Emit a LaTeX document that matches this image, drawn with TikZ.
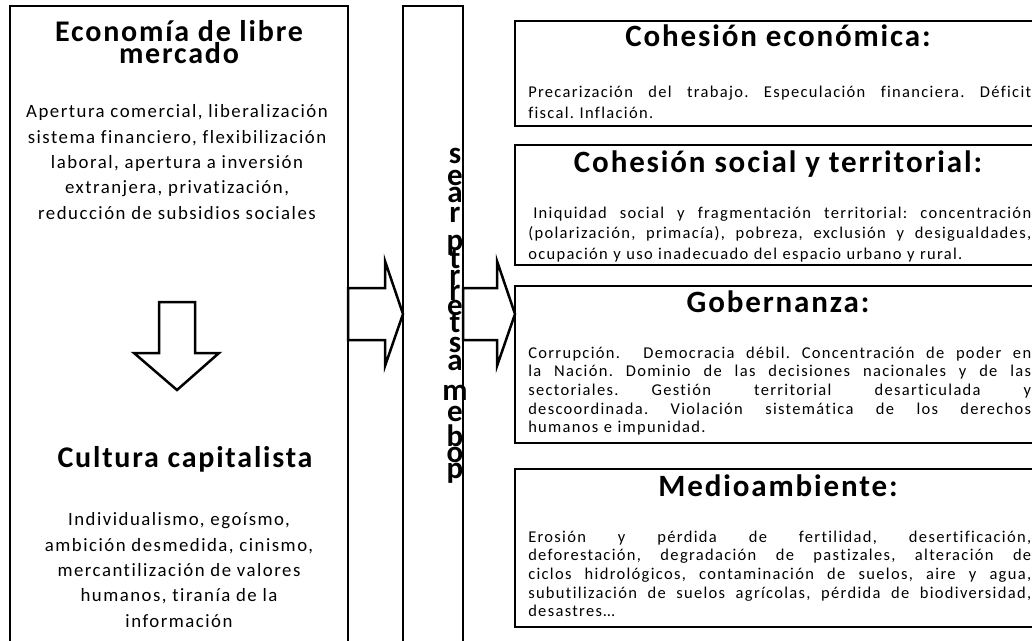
\documentclass[tikz,border=0pt]{standalone}
\usepackage{fontspec}
\setmainfont{Carlito}
\newfontfamily\headfont{Carlito}[LetterSpace=6]
\newfontfamily\bodyfont{Carlito}[LetterSpace=8, Ligatures=CommonOff]
\usetikzlibrary{positioning}

% one justified line of a body text
\newcommand{\jline}[1]{\makebox[\hsize][s]{\spaceskip=0pt\xspaceskip=0pt #1}}

\begin{document}
\frenchspacing
\begin{tikzpicture}[x=1pt, y=-1pt, line width=2.5pt,
  panel/.style={draw, rectangle, inner sep=0pt, outer sep=0pt},
  headtxt/.style={font=\headfont\bfseries\fontsize{31}{22}\selectfont, inner sep=0pt, anchor=base, align=center},
  bodytxt/.style={font=\bodyfont\fontsize{16.5}{#1}\selectfont, inner sep=0pt, anchor=base west, text width=503pt, align=left},
  bodytxt/.default=18.7,
  sidetxt/.style={font=\bodyfont\fontsize{18.8}{25.3}\selectfont, inner sep=0pt, anchor=base, align=center},
  stackch/.style={font=\headfont\bfseries\fontsize{31}{31}\selectfont, inner sep=0pt, anchor=base},
  blockarrow/.style={draw, fill=white, line join=miter}
]
\useasboundingbox (0,0) rectangle (1032,640);

% Left and middle columns
\node[panel, minimum width=338pt, minimum height=645pt, anchor=north west] (econbox) at (10,6) {};
\node[panel, minimum width=60pt, minimum height=645pt, right=55pt of econbox] (probbox) {};

% Right boxes
\node[panel, minimum width=526pt, minimum height=105pt, anchor=north west] (cohEco) at (515,21) {};
\node[panel, minimum width=526pt, minimum height=120pt, below=19pt of cohEco] (cohSoc) {};
\node[panel, minimum width=526pt, minimum height=157pt, below=21pt of cohSoc] (gobern) {};
\node[panel, minimum width=526pt, minimum height=158pt, below=26pt of gobern] (medio) {};

% Left column texts (base = last line)
\node[headtxt, font=\headfont\bfseries\fontsize{30}{22}\selectfont] (econT) at (179,63) {Economía de libre\\mercado};
\node[sidetxt] (econB) at (177,219) {Apertura comercial, liberalización\\sistema financiero, flexibilización\\laboral, apertura a inversión\\extranjera, privatización,\\reducción de subsidios sociales};
\node[headtxt, font=\headfont\bfseries\fontsize{30}{22}\selectfont] (cultT) at (185,467) {Cultura capitalista};
\node[sidetxt] (cultB) at (179,627) {Individualismo, egoísmo,\\ambición desmedida, cinismo,\\mercantilización de valores\\humanos, tiranía de la\\información};

% Block arrows
\draw[blockarrow] (159,302) -- (195,302) -- (195,353) -- (219,353) -- (177,390) -- (134,353) -- (159,353) -- cycle;
\draw[blockarrow] (348,288) -- (385,288) -- (385,261) -- (403,314) -- (385,366) -- (385,340) -- (348,340) -- cycle;
\draw[blockarrow] (463,288) -- (497,288) -- (497,261) -- (515,314) -- (497,366) -- (497,340) -- (463,340) -- cycle;

% Stacked letters of the middle column
\foreach \ch/\yy [count=\k] in {s/163, e/185, a/202, r/222, p/250, t/268, r/285, r/300, e/315,
    t/332, s/352, a/370, m/400, e/421, b/446, o/462, p/478}
  \node[stackch] (let\k) at (455,\yy) {\ch};

% Right box texts
\node[headtxt] (cohEcoT) at (778,46) {Cohesión económica:};
\node[bodytxt=21] (cohEcoB) at (527,97) {\jline{Precarización del trabajo. Especulación financiera. Déficit}\\fiscal. Inflación.};

\node[headtxt] (cohSocT) at (778,172) {Cohesión social y territorial:};
\node[bodytxt=20.5] (cohSocB) at (527,218) {\jline{\hspace*{5pt}Iniquidad social y fragmentación territorial: concentración}\\\jline{(polarización, primacía), pobreza, exclusión y desigualdades,}\\ocupación y uso inadecuado del espacio urbano y rural.};

\node[headtxt] (gobernT) at (778,312) {Gobernanza:};
\node[bodytxt] (gobernB) at (527,358) {\jline{Corrupción.\ \ Democracia débil. Concentración de poder en}\\\jline{la Nación. Dominio de las decisiones nacionales y de las}\\\jline{sectoriales.\qquad Gestión territorial desarticulada y}\\\jline{descoordinada. Violación sistemática de los derechos}\\humanos e impunidad.};

\node[headtxt] (medioT) at (778,496) {Medioambiente:};
\node[bodytxt] (medioB) at (527,542) {\jline{Erosión y pérdida de fertilidad, desertificación,}\\\jline{deforestación, degradación de pastizales, alteración de}\\\jline{ciclos hidrológicos, contaminación de suelos, aire y agua,}\\\jline{subutilización de suelos agrícolas, pérdida de biodiversidad,}\\desastres…};

\end{tikzpicture}
\end{document}
